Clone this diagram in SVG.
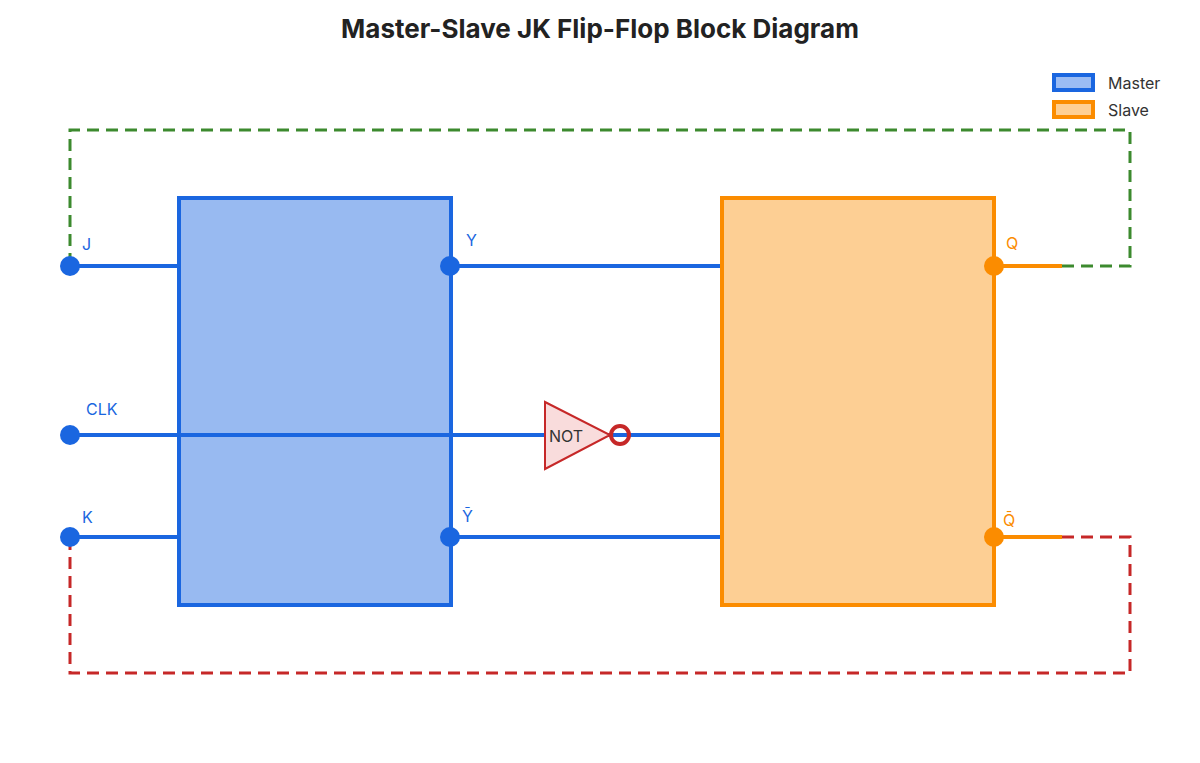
<svg xmlns="http://www.w3.org/2000/svg" width="1200" height="763" viewBox="0 0 1200 763">
<style>
.t{font-family:"Inter","Liberation Sans",sans-serif}
.lb{font-size:16px}
.w{stroke:#1a66e0;stroke-width:4;fill:none}
.ws{stroke:#fb8c00;stroke-width:4;fill:none}
.d{stroke-width:3;stroke-dasharray:12,7;fill:none}
</style>
<rect width="1200" height="763" fill="#fff"/>
<text class="t" x="600" y="38" text-anchor="middle" font-size="26" font-weight="bold" fill="#222">Master-Slave JK Flip-Flop Block Diagram</text>
<g id="legend">
<rect x="1054" y="75" width="39" height="15" fill="#9bbcf4" stroke="#1a66e0" stroke-width="4"/>
<text class="t" x="1108" y="89" font-size="16" fill="#333">Master</text>
<rect x="1054" y="102" width="39" height="15" fill="#fecf94" stroke="#fb8c00" stroke-width="4"/>
<text class="t" x="1108" y="116" font-size="16" fill="#333">Slave</text>
</g>
<g id="connectors">
<path class="d" stroke="#3c8a2e" d="M1062,266 H1130 V130 H70 V266"/>
<path class="d" stroke="#c62828" d="M1062,537 H1130 V673 H70 V537"/>
<path class="w" d="M70,266 H180 M70,435 H722 M70,537 H180 M450,266 H722 M450,537 H722"/>
<path class="ws" d="M994,266 H1062 M994,537 H1062"/>
</g>
<g id="master">
<rect x="179" y="198" width="272" height="407" fill="#1a66e0" fill-opacity="0.45" stroke="#1a66e0" stroke-width="4"/>
</g>
<g id="slave">
<rect x="722" y="198" width="272" height="407" fill="#fb8c00" fill-opacity="0.42" stroke="#fb8c00" stroke-width="4"/>
</g>
<g id="not">
<polygon points="545,402 545,469 610,435" fill="#f9dcdc" stroke="#c62828" stroke-width="2"/>
<circle cx="620" cy="435" r="9" fill="none" stroke="#c62828" stroke-width="4"/>
<text class="t" x="549" y="442" font-size="16" fill="#333">NOT</text>
</g>
<g id="pins" fill="#1a66e0">
<circle cx="70" cy="266" r="10"/><circle cx="70" cy="435" r="10"/><circle cx="70" cy="537" r="10"/>
<circle cx="450" cy="266" r="10"/><circle cx="450" cy="537" r="10"/>
<circle cx="994" cy="266" r="10" fill="#fb8c00"/><circle cx="994" cy="537" r="10" fill="#fb8c00"/>
</g>
<g class="t lb">
<text x="82" y="250" fill="#1a66e0">J</text>
<text x="86" y="415" fill="#1a66e0">CLK</text>
<text x="82" y="523" fill="#1a66e0">K</text>
<text x="466" y="246" fill="#1a66e0">Y</text>
<text x="462" y="522" fill="#1a66e0">Y&#772;</text>
<text x="1006" y="249" fill="#fb8c00">Q</text>
<text x="1003" y="526" fill="#fb8c00">Q&#772;</text>
</g>
</svg>
